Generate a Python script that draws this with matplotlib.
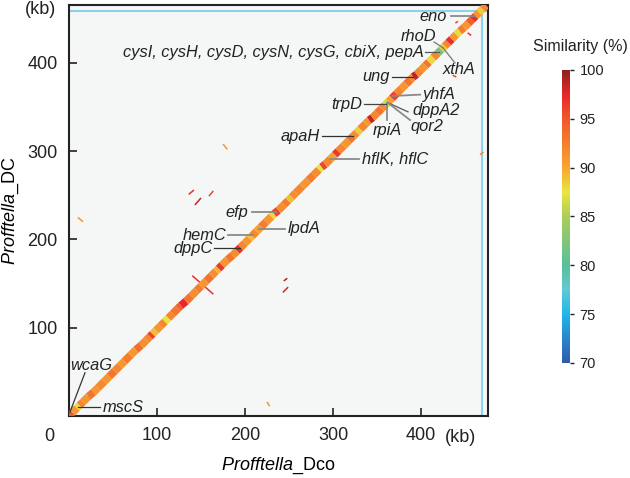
import matplotlib
matplotlib.use("Agg")
import matplotlib.pyplot as plt
from matplotlib.collections import LineCollection
from matplotlib.colors import LinearSegmentedColormap, Normalize
from matplotlib.cm import ScalarMappable

plt.rcParams['font.family'] = ['Liberation Sans', 'DejaVu Sans']
plt.rcParams['mathtext.fontset'] = 'custom'
plt.rcParams['mathtext.it'] = 'Liberation Sans:italic'
plt.rcParams['mathtext.rm'] = 'Liberation Sans'

# main alignment blocks along the diagonal (kb) and their similarity (%)
block_dco = [0, 4, 9, 12, 16, 22, 28, 33, 40, 46, 52, 58, 63, 70, 76, 82, 88, 92, 95, 99,
             104, 109, 113, 118, 124, 127, 133, 139, 145, 150, 156, 162, 167, 170, 174, 180,
             186, 191, 195, 200, 205, 208, 213, 218, 224, 230, 233, 238, 244, 249, 253, 258,
             265, 272, 278, 284, 287, 291, 297, 302, 306, 312, 318, 323, 327, 331, 337, 341,
             345, 350, 355, 359, 363, 367, 372, 378, 383, 388, 391, 395, 400, 405, 409, 414,
             419, 423, 427, 431, 435, 440, 444, 449, 454, 458, 462, 466, 470, 474]
block_dc = [0, 4, 9, 12, 16, 22, 27, 32, 39, 45, 51, 57, 62, 69, 75, 80, 86, 90, 93, 97,
            102, 107, 111, 116, 122, 125, 130, 136, 142, 147, 153, 159, 164, 167, 171, 177,
            182, 187, 191, 196, 201, 204, 209, 214, 220, 226, 229, 233, 239, 244, 248, 253,
            260, 267, 273, 279, 282, 285, 291, 296, 300, 306, 312, 317, 321, 325, 331, 335,
            338, 343, 348, 352, 356, 360, 365, 371, 376, 381, 384, 387, 392, 397, 401, 406,
            411, 415, 419, 423, 427, 432, 436, 440, 445, 449, 453, 457, 461, 465]
block_sim = [95, 91, 88, 92, 91, 93, 91, 92, 91, 93, 92, 91, 92.5, 91, 93.5, 91.5, 92, 96, 89, 91,
             92, 87.5, 92, 93, 94.5, 97.5, 93, 91.5, 92.5, 91, 93, 91.5, 89.5, 96.5, 91, 93,
             91.5, 97, 92, 91, 89, 92, 90.5, 92.5, 91, 88, 96, 91.5, 92.5, 89, 91.5, 92,
             91, 92.5, 91.5, 87.5, 96, 92, 90.5, 96.5, 92, 91, 93, 91.5, 88.5, 92, 91, 98.5,
             92, 93, 91.5, 86.5, 90.5, 96, 92, 91, 93, 92, 98.5, 92, 91, 93, 88, 92,
             82, 88.5, 92, 97, 91, 88, 92.5, 91, 94.5, 97, 91, 88.5, 92]

# short off-diagonal matches (kb)
mark_dco0 = [175, 10, 136, 143, 159, 140, 244, 243, 225, 467, 439, 453, 436]
mark_dc0 = [308, 225, 251, 239, 249, 159, 153, 140, 16, 296, 445, 434, 386]
mark_dco1 = [180, 16, 142, 150, 164, 164, 248, 249, 228, 471, 442, 457, 440]
mark_dc1 = [302, 220, 256, 247, 255, 138, 156, 146, 11, 299, 447, 431, 384]
mark_sim = [91, 91, 97, 98.5, 96, 97, 99, 98, 91, 92, 96, 97, 96]

# genome ends (kb)
dco_len = 469
dc_len = 459

# gene labels: text, text x, text y, ha, leader start, leader end, leader colour
genes = ['eno', 'cysI, cysH, cysD, cysN, cysG, cbiX, pepA', 'rhoD', 'xthA', 'ung', 'yhfA',
         'dppA2', 'qor2', 'rpiA', 'trpD', 'apaH', 'hflK, hflC', 'efp', 'lpdA', 'hemC',
         'dppC', 'wcaG', 'mscS']
gene_tx = [429.5, 403, 396.6, 443, 364.8, 402.3, 389.8, 387.5, 361.4, 333, 285.2, 333,
           203.4, 248.9, 179.5, 163.6, 1.1, 38.6]
gene_ty = [453, 412, 430, 393, 384, 364, 346, 327.5, 323, 353, 317, 291, 231, 212, 205, 190,
           57, 10]
gene_ha = ['right', 'right', 'center', 'center', 'right', 'left', 'left', 'left', 'center',
           'right', 'right', 'left', 'right', 'left', 'right', 'right', 'left', 'left']
lead_x0 = [434, 405, 414.8, 425, 367, 368.3, 362, 362, 361, 335, 287.5, 296.7, 208, 215.9,
           180.7, 164.8, 18.2, 35.2]
lead_y0 = [453, 412, 423.6, 417, 384, 362.5, 355, 355, 354, 353, 317, 291, 231, 212, 205, 190,
           49, 10]
lead_x1 = [461, 420, 425, 438.6, 391, 399, 385.2, 387.5, 361, 360, 323, 330, 235.5, 245.5,
           209, 194, 1.1, 10.4]
lead_y1 = [453, 412, 417, 399.8, 384, 364, 344.5, 335.2, 335.2, 353, 317, 291, 231, 212, 205,
           190, 4.5, 10]
lead_col = ['#8a8a8a', '#555555', '#777777', '#777777', '#333333', '#8a8a8a', '#555555',
            '#8a8a8a', '#8a8a8a', '#444444', '#333333', '#8a8a8a', '#8a8a8a', '#8a8a8a',
            '#8a8a8a', '#333333', '#333333', '#333333']

cmap = LinearSegmentedColormap.from_list('sim', [
    (0.0, '#2e5ca8'), (1 / 12, '#2a86cc'), (2 / 12, '#1fb8ea'), (3 / 12, '#62c8d2'),
    (4 / 12, '#58c09a'), (5 / 12, '#82c57a'), (6 / 12, '#acce58'), (7 / 12, '#e8e640'),
    (8 / 12, '#f8a630'), (9 / 12, '#f57f2e'), (10 / 12, '#f0582a'), (11 / 12, '#e8282a'),
    (1.0, '#8e2020')])
norm = Normalize(70, 100)

fig = plt.figure(figsize=(6.3, 4.78), dpi=100)
ax = fig.add_axes([0.1095, 0.1297, 0.665, 0.8598])
ax.set_facecolor('#f5f7f7')

# genome extent lines
ax.axhline(dc_len, color='#8fd0ee', lw=1.5, zorder=1)
ax.axvline(dco_len, color='#8fd0ee', lw=1.5, zorder=1)

segs = [[(block_dco[i], block_dc[i]), (block_dco[i + 1], block_dc[i + 1])]
        for i in range(len(block_sim))]
diag = LineCollection(segs, colors=cmap(norm(block_sim)), linewidths=5.6,
                      capstyle='butt', zorder=3)
ax.add_collection(diag)

marks = [[(mark_dco0[i], mark_dc0[i]), (mark_dco1[i], mark_dc1[i])] for i in range(len(mark_sim))]
ax.add_collection(LineCollection(marks, colors=cmap(norm(mark_sim)), linewidths=1.1, zorder=2))

for i, g in enumerate(genes):
    ax.plot([lead_x0[i], lead_x1[i]], [lead_y0[i], lead_y1[i]], color=lead_col[i],
            lw=1.3 if lead_col[i] == '#8a8a8a' else 0.9, zorder=4)
    ax.text(gene_tx[i], gene_ty[i], g, ha=gene_ha[i], va='center', fontsize=11.8,
            style='italic', color='#222222', zorder=5)

ax.set_xlim(0, 476)
ax.set_ylim(0, 465.5)
ax.set_xticks([100, 200, 300, 400])
ax.set_yticks([100, 200, 300, 400])
ax.tick_params(direction='in', length=6, width=1.2, labelsize=13, pad=8, colors='#222222')
for s in ax.spines.values():
    s.set_linewidth(1.5)
    s.set_color('#222222')

ax.annotate('0', xy=(0, 0), xytext=(-14, -15), textcoords='offset points',
            ha='center', va='center', fontsize=13, color='#222222')
fig.text(41 / 630, 1 - 10 / 478, '(kb)', ha='center', va='center', fontsize=13, color='#222222')
fig.text(460 / 630, 1 - 437 / 478, '(kb)', ha='center', va='center', fontsize=13, color='#222222')

ax.set_xlabel(r'$\mathit{Profftella}$_Dco', fontsize=13, labelpad=8)
ax.set_ylabel(r'$\mathit{Profftella}$_DC', fontsize=13, labelpad=5)

cax = fig.add_axes([0.892, 0.2406, 0.0127, 0.613])
cb = fig.colorbar(ScalarMappable(norm=norm, cmap=cmap), cax=cax, ticks=[70, 75, 80, 85, 90, 95, 100])
cb.outline.set_visible(False)
cax.tick_params(length=3, width=1, labelsize=10.5, pad=4, colors='#222222')
fig.text(580 / 630, 1 - 46 / 478, 'Similarity (%)', ha='center', va='center', fontsize=11.5,
         color='#222222')

fig.savefig('out.png', dpi=100)
